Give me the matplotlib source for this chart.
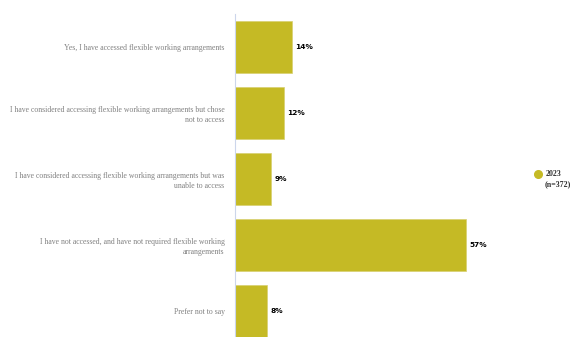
import matplotlib
matplotlib.use("Agg")
import matplotlib.pyplot as plt
from matplotlib.lines import Line2D

categories = [
    "Yes, I have accessed flexible working arrangements",
    "I have considered accessing flexible working arrangements but chose\nnot to access",
    "I have considered accessing flexible working arrangements but was\nunable to access",
    "I have not accessed, and have not required flexible working\narrangements",
    "Prefer not to say",
]
values = [14, 12, 9, 57, 8]
series_name = "2023"
series_n = "(n=372)"
color = "#C5BA25"

W, H = 572, 337
fig = plt.figure(figsize=(W / 100, H / 100), dpi=100)
ax_left, ax_top, ax_bottom = 235, 14, 337
px_per_unit = 4.05
xmax = 60
ax = fig.add_axes([ax_left / W, 1 - ax_bottom / H, xmax * px_per_unit / W, (ax_bottom - ax_top) / H])

ypos = list(range(len(categories)))
ax.barh(ypos, values, height=0.79, color=color, edgecolor="#d8d070", linewidth=0.5, zorder=2)
ax.set_xlim(0, xmax)
units = (ax_bottom - ax_top) / 66.0
ax.set_ylim(-0.5 + units, -0.5)

for s in ["top", "right", "bottom"]:
    ax.spines[s].set_visible(False)
ax.spines["left"].set_color("#ccd6eb")
ax.spines["left"].set_linewidth(0.8)
ax.set_xticks([])
ax.set_yticks(ypos)
ax.set_yticklabels(categories, fontfamily="Liberation Serif", fontsize=5.6, color="#808080",
                   linespacing=1.4)
ax.tick_params(axis="y", length=0, pad=7.5)

for y, v in zip(ypos, values):
    ax.text(v + 0.8, y, f"{v}%", va="center", ha="left", fontsize=5.3, fontweight="bold",
            color="black", fontfamily="DejaVu Sans")

fig.add_artist(Line2D([538 / W], [1 - 174 / H], marker="o", markersize=5.5, color=color,
                      transform=fig.transFigure, linestyle="none"))
fig.text(546 / W, 1 - 174 / H, series_name, fontfamily="Liberation Serif", fontsize=5.7,
         fontweight="bold", va="center", ha="left", color="#333333")
fig.text(545 / W, 1 - 184 / H, series_n, fontfamily="Liberation Serif", fontsize=5.7,
         fontweight="bold", va="center", ha="left", color="#333333")

fig.savefig("out.png", dpi=100)
